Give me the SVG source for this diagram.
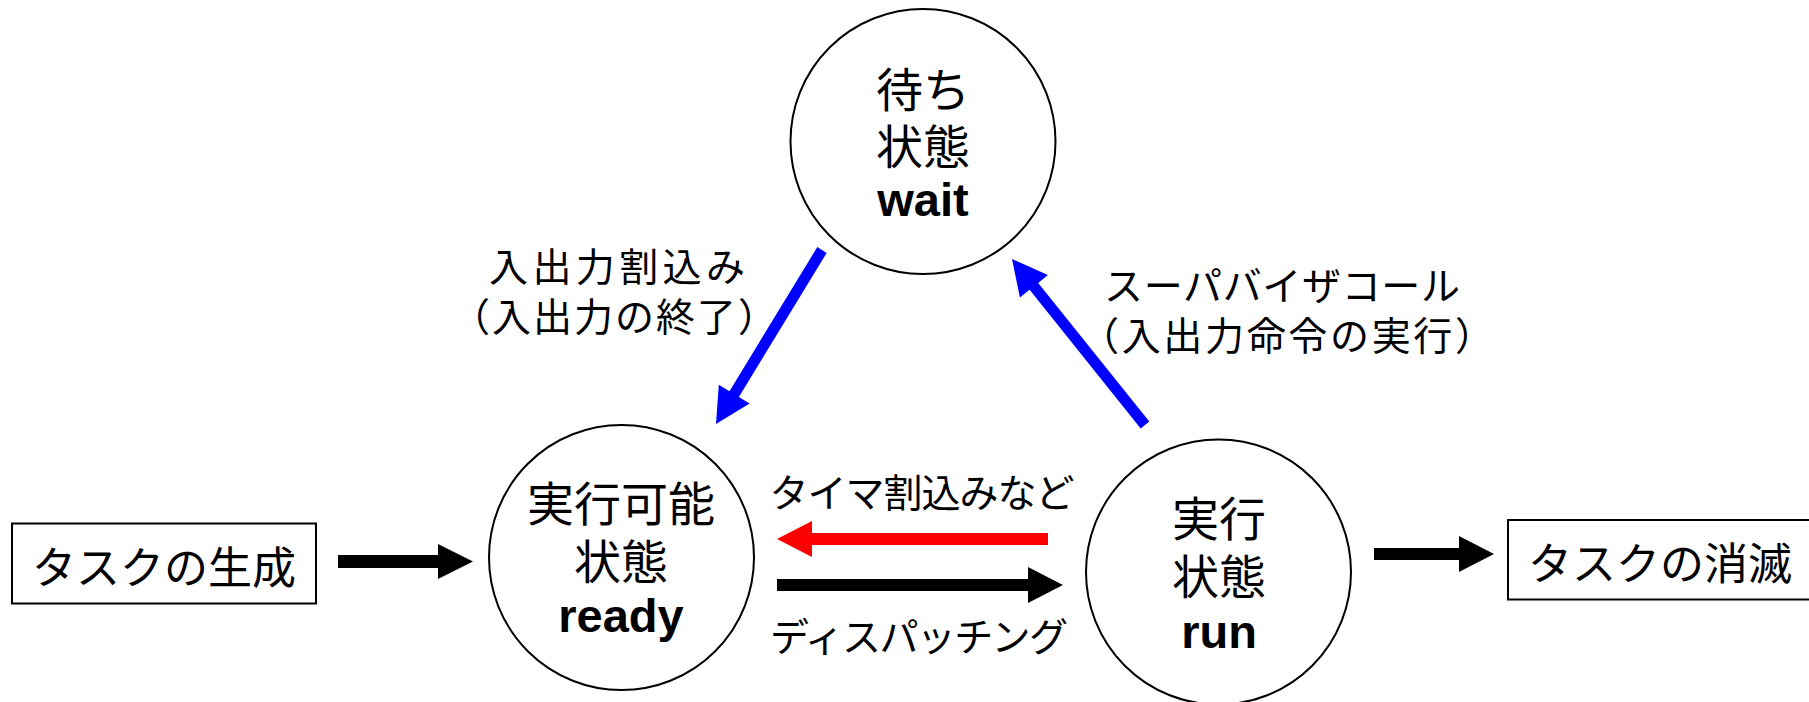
<svg xmlns="http://www.w3.org/2000/svg" width="1809" height="702" viewBox="0 0 1809 702">
<style>
.node circle{fill:#fff;stroke:#000;stroke-width:2}
.box rect{fill:#fff;stroke:#000;stroke-width:2}
.jp{font-family:"Liberation Sans","Noto Sans CJK JP",sans-serif;fill:#000}
.nt{font-size:47px;text-anchor:middle}
.en{font-family:"Liberation Sans","Noto Sans CJK JP",sans-serif;font-weight:bold;font-size:47px;text-anchor:middle;fill:#000}
.bt{font-size:44px;text-anchor:middle}
.lb{font-size:39px;text-anchor:middle}
.blk{fill:#000}
.red{fill:#ff0000}
.blue{fill:#0000ff}
</style>
<rect x="0" y="0" width="1809" height="702" fill="#fff"/>

<g id="wait" class="node">
  <circle cx="923" cy="141.5" r="132.5"/>
  <text class="jp nt" x="923" y="107">待ち</text>
  <text class="jp nt" x="923" y="164">状態</text>
  <text class="en" x="923" y="216">wait</text>
</g>
<g id="ready" class="node">
  <circle cx="621.5" cy="557.5" r="132.5"/>
  <text class="jp nt" x="621" y="521">実行可能</text>
  <text class="jp nt" x="621" y="579">状態</text>
  <text class="en" x="621" y="632">ready</text>
</g>
<g id="run" class="node">
  <circle cx="1218.5" cy="572" r="132.5"/>
  <text class="jp nt" x="1219" y="536">実行</text>
  <text class="jp nt" x="1219" y="594">状態</text>
  <text class="en" x="1219" y="648">run</text>
</g>
<g id="create" class="box">
  <rect x="12" y="523.5" width="304" height="80"/>
  <text class="jp bt" x="164" y="584">タスクの生成</text>
</g>
<g id="destroy" class="box">
  <rect x="1508" y="520" width="310" height="79.5"/>
  <text class="jp bt" x="1660" y="580">タスクの消滅</text>
</g>

<g id="connectors">
  <polygon class="blk" points="338,555 438,555 438,544 473,561.5 438,579 438,568 338,568"/>
  <polygon class="blk" points="1374,548 1459,548 1459,536 1494,554 1459,572 1459,560 1374,560"/>
  <polygon class="red" points="1048,533 812,533 812,521 777,539 812,557 812,545 1048,545"/>
  <polygon class="blk" points="777,579 1028,579 1028,567 1063,585 1028,603 1028,591 777,591"/>
  <polygon class="blue" points="826.7,252.9 738.9,397 749.6,403.5 716,424 718.8,384.7 729.5,391.2 817.3,247.1"/>
  <polygon class="blue" points="1149.3,421.6 1038.2,282.9 1047.9,275 1012,259 1019.9,297.6 1029.6,289.7 1140.7,428.4"/>
</g>

<g id="labels">
  <text class="jp lb" x="617" y="281" textLength="256" lengthAdjust="spacing">入出力割込み</text>
  <text class="jp lb" x="614" y="331" textLength="326" lengthAdjust="spacing">（入出力の終了）</text>
  <text class="jp lb" x="1282" y="300" textLength="356" lengthAdjust="spacing">スーパバイザコール</text>
  <text class="jp lb" x="1287" y="350" textLength="414" lengthAdjust="spacing">（入出力命令の実行）</text>
  <text class="jp lb" x="922" y="507" textLength="305" lengthAdjust="spacing">タイマ割込みなど</text>
  <text class="jp lb" x="919" y="651" textLength="298" lengthAdjust="spacing">ディスパッチング</text>
</g>
</svg>
